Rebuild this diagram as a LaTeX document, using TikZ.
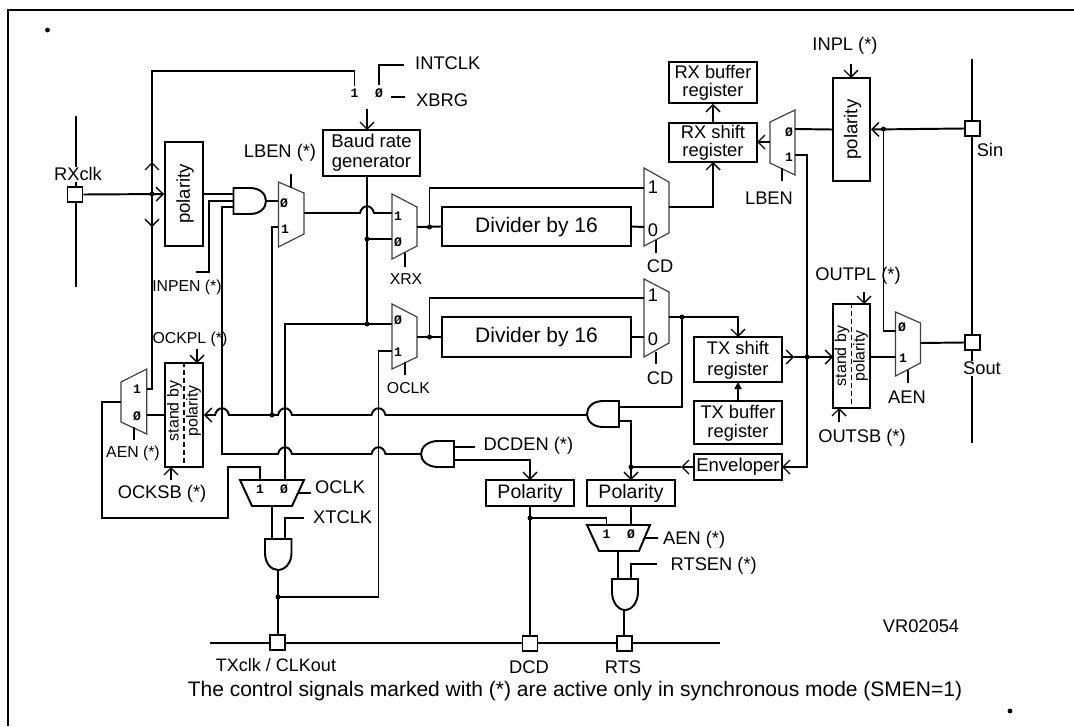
\documentclass[tikz,border=0pt]{standalone}
\usepackage{fontspec}
\setmainfont{Liberation Sans}
\newfontfamily\monof{Liberation Mono}[BoldFont={Liberation Mono Bold}]
\usetikzlibrary{arrows.meta}
\newcommand\hop[2]{-- ({#1-7},#2) .. controls ({#1-5},{#2-9}) and ({#1+5},{#2-9}) .. ({#1+7},#2)}
\newcommand\dotat[1]{\fill (#1) circle (2.5pt);}
\newcommand\fsz[1]{\fontsize{#1}{#1}\selectfont}
\tikzset{
  x=1pt,y=-1pt,
  openhead/.tip={Straight Barb[length=7pt,width=14pt,line width=1.4pt]},
  solidhead/.tip={Triangle[length=7pt,width=7pt]},
  wire/.style={line width=1.95pt,line cap=butt,line join=miter,black},
  arrowwire/.style={wire,-{openhead}},
  muxgray/.style={line width=1.2pt,draw=black!75,line join=miter},
  muxdark/.style={line width=1.95pt,draw=black,line join=miter},
  gate/.style={line width=1.95pt,draw=black,line join=miter,fill=white},
  box/.style={draw,line width=1.95pt,inner sep=0pt,align=center,fill=white},
  term/.style={draw,line width=1.95pt,inner sep=0pt,fill=white,minimum width=15pt,minimum height=15pt},
  lab/.style={inner sep=0pt,font=\fsz{18.3},text height=13pt,text depth=0pt},
  sml/.style={inner sep=0pt,font=\fsz{15.8},text height=11.4pt,text depth=0pt},
  big/.style={inner sep=0pt,font=\fsz{18.3}},
  tiny/.style={inner sep=0pt,font=\monof\bfseries\fsz{13}},
}
\begin{document}
\begin{tikzpicture}
\useasboundingbox (0,0) rectangle (1074,726);
% frame
\draw[line width=2pt,line join=miter] (8,726) -- (8,10) -- (1074,10);
\fill (47.5,30) circle (2.4pt);
\fill (1010,711) circle (2.4pt);

% external buses
\coordinate (rxbusT) at (76,116); \coordinate (rxbusB) at (76,287);
\draw[wire] (rxbusT) -- (rxbusB);
\coordinate (serT) at (972,59); \coordinate (serB) at (972,443);
\draw[wire] (serT) -- (serB);
\coordinate (pinL) at (210,643); \coordinate (pinR) at (719.5,643);
\draw[wire] (pinL) -- (pinR);

% boxes
\node[box,minimum width=97pt,minimum height=46pt] (baud) at (371.5,153) {};
\node[big,font=\fsz{18.5}] (bauda) at (371.5,141) {Baud rate};
\node[big,font=\fsz{18.5}] (baudb) at (371.5,163) {generator};
\node[box,minimum width=38pt,minimum height=104pt] (polL) at (184,194) {};
\node[big,rotate=90,font=\fsz{18.6}] (polLt) at (185,194) {polarity};
\node[box,minimum width=38pt,minimum height=104pt] (sbL) at (184,415) {};
\draw[wire,dashed,dash pattern=on 5pt off 3pt] (sbL.north) -- (sbL.south);
\node[inner sep=0pt,rotate=90,font=\fsz{15.9}] (sbLa) at (174.5,411) {stand by};
\node[inner sep=0pt,rotate=90,font=\fsz{15.9}] (sbLb) at (193.5,411) {polarity};
\node[box,minimum width=189pt,minimum height=39pt] (div1) at (536.5,226.5) {};
\node[inner sep=0pt,font=\fsz{21}] (div1t) at (536.5,227) {Divider by 16};
\node[box,minimum width=189pt,minimum height=40pt] (div2) at (536.5,337) {};
\node[inner sep=0pt,font=\fsz{21}] (div2t) at (536.5,337) {Divider by 16};
\node[box,minimum width=88pt,minimum height=41pt] (rxbuf) at (713,82.5) {};
\node[big] (rxbufa) at (713,72) {RX buffer};
\node[big] (rxbufb) at (713,92) {register};
\node[box,minimum width=88pt,minimum height=39pt] (rxsh) at (713,142.5) {};
\node[big] (rxsha) at (713,132) {RX shift};
\node[big] (rxshb) at (713,152) {register};
\node[box,minimum width=37pt,minimum height=103pt] (polR) at (851.5,129.5) {};
\node[big,rotate=90,font=\fsz{18.6}] (polRt) at (852.5,129.5) {polarity};
\node[box,minimum width=37pt,minimum height=104pt] (sbR) at (851.5,356) {};
\draw[wire,dashed,dash pattern=on 5pt off 3pt] (sbR.north) -- (sbR.south);
\node[inner sep=0pt,rotate=90,font=\fsz{15.9}] (sbRa) at (842,356) {stand by};
\node[inner sep=0pt,rotate=90,font=\fsz{15.9}] (sbRb) at (860.5,356) {polarity};
\node[box,minimum width=88pt,minimum height=45pt] (txsh) at (738,359.5) {};
\node[big] (txsha) at (738,348) {TX shift};
\node[big] (txshb) at (738,371) {register};
\node[box,minimum width=88pt,minimum height=43pt] (txbuf) at (738,422.5) {};
\node[big] (txbufa) at (738,412) {TX buffer};
\node[big] (txbufb) at (738,433) {register};
\node[box,minimum width=88pt,minimum height=26pt,font=\fsz{18.5}] (env) at (738,467) {Enveloper};
\node[box,minimum width=88pt,minimum height=26pt,font=\fsz{19.5}] (polA) at (530,493) {Polarity};
\node[box,minimum width=88pt,minimum height=26pt,font=\fsz{19.5}] (polB) at (631,493) {Polarity};

% terminals
\node[term] (rxsq) at (75,194.5) {};
\node[term] (sinsq) at (972.5,128.5) {};
\node[term] (soutsq) at (972.5,342.5) {};
\node[term] (txsq) at (277.5,642.5) {};
\node[term] (dcdsq) at (530,643.5) {};
\node[term] (rtssq) at (624.5,643.5) {};
\node[lab,fill=white,inner sep=1pt] (rxl) at (78,174) {RXclk};
\node[lab,fill=white,inner sep=1pt] (soutl) at (982,368) {Sout};
\node[lab] (sinl) at (990,150) {Sin};

% multiplexers
\draw[muxgray] (278.4,182) -- (304,193) -- (304,234) -- (278.4,247) -- cycle;
\draw[muxgray] (392,194) -- (417,207) -- (417,246) -- (392,259) -- cycle;
\draw[muxgray] (392,304) -- (417,317) -- (417,357) -- (392,369) -- cycle;
\draw[muxgray] (644,168) -- (669,182) -- (669,233) -- (644,246) -- cycle;
\draw[muxgray] (644,279) -- (669,292) -- (669,343) -- (644,357) -- cycle;
\draw[muxgray] (770,122) -- (795,110) -- (795,175) -- (770,163) -- cycle;
\draw[muxgray] (895.5,312) -- (920.5,323) -- (920.5,363) -- (895.5,376) -- cycle;
\draw[muxgray] (121,382) -- (146.7,369) -- (146.7,434) -- (121,422) -- cycle;
\draw[muxdark] (240,480) -- (304,480) -- (292,506) -- (252,506) -- cycle;
\draw[muxdark] (587,525) -- (650,525) -- (639,551) -- (599,551) -- cycle;

% gates
\draw[gate] (233.5,188) -- (250,188) .. controls (260,188) and (266,194) .. (266,201) .. controls (266,208) and (260,214) .. (250,214) -- (233.5,214) -- cycle;
\draw[gate] (454,441) -- (438,441) .. controls (428,441) and (421,447) .. (421,454) .. controls (421,461) and (428,467) .. (438,467) -- (454,467) -- cycle;
\draw[gate] (619,401) -- (603,401) .. controls (593,401) and (587,407) .. (587,414) .. controls (587,421) and (593,427) .. (603,427) -- (619,427) -- cycle;
\draw[gate] (265,539) -- (291.5,539) -- (291.5,553) .. controls (291.5,563) and (285,570) .. (278,570) .. controls (271,570) and (265,563) .. (265,553) -- cycle;
\draw[gate] (612,579) -- (638,579) -- (638,592) .. controls (638,602) and (632,610) .. (625,610) .. controls (618,610) and (612,602) .. (612,592) -- cycle;

% named wire ends
\coordinate (sel1) at (354.5,86); \coordinate (sel0) at (379,85);
\coordinate (intclk) at (404,65); \coordinate (xbrgS) at (391,97); \coordinate (xbrgE) at (405,97);
\coordinate (baudS) at (367,109); \coordinate (baudN) at (367,130); \coordinate (baudO) at (367,176);
\coordinate (jA) at (152,194); \coordinate (upTip) at (152,162); \coordinate (dnTip) at (152,227);
\coordinate (muxAin1) at (146.7,389); \coordinate (muxAin0) at (146.7,415); \coordinate (muxAout) at (121,402);
\coordinate (and1a) at (233.5,194); \coordinate (and1b) at (233.5,201); \coordinate (and1c) at (233.5,207); \coordinate (and1o) at (266,201);
\coordinate (inpen) at (196,272);
\coordinate (lb0) at (278.4,201); \coordinate (lb1) at (278.4,227); \coordinate (lbO) at (304,213); \coordinate (lbC1) at (291,174); \coordinate (lbC2) at (291,188);
\coordinate (xr1) at (392,213); \coordinate (xr0) at (392,239); \coordinate (xrO) at (417,227); \coordinate (jxr) at (429.5,227); \coordinate (jb) at (367,239);
\coordinate (xrC1) at (405,253); \coordinate (xrC2) at (405,267);
\coordinate (cd11) at (644,188); \coordinate (cd10) at (644,227); \coordinate (cd1O) at (669,207);
\coordinate (cd1C1) at (656,240); \coordinate (cd1C2) at (656,253);
\coordinate (rxshS) at (713,162); \coordinate (lb2O) at (770,142); \coordinate (lb2e) at (757,142);
\coordinate (lb20) at (795,129); \coordinate (lb21) at (795,155); \coordinate (lb2C1) at (782,168); \coordinate (lb2C2) at (782,181);
\coordinate (inplS) at (851,64); \coordinate (inplE) at (851,78);
\coordinate (jsin) at (883.5,129);
\coordinate (aen0) at (895.5,331); \coordinate (aen1) at (895.5,357); \coordinate (aenO) at (920.5,343); \coordinate (sbRo) at (870,357); \coordinate (aenC1) at (908,370); \coordinate (aenC2) at (908,383);
\coordinate (outplS) at (864,292); \coordinate (outplE) at (864,304); \coordinate (outsbS) at (839,422); \coordinate (outsbE) at (839,408);
\coordinate (oc0) at (392,324); \coordinate (oc1) at (392,351); \coordinate (ocO) at (417,337); \coordinate (joc) at (429.5,337); \coordinate (jc) at (367,324);
\coordinate (ocC1) at (405,362); \coordinate (ocC2) at (405,375);
\coordinate (cd21) at (644,298); \coordinate (cd20) at (644,337); \coordinate (cd2O) at (669,317); \coordinate (jcd) at (682,317);
\coordinate (cd2C1) at (656,352); \coordinate (cd2C2) at (656,364);
\coordinate (txshN) at (738,337); \coordinate (txshS) at (738,382); \coordinate (txshE) at (782,357); \coordinate (txTip) at (794,357); \coordinate (sbRw) at (833,357); \coordinate (jtx) at (807,357);
\coordinate (envE) at (782,467); \coordinate (envTip) at (681,467); \coordinate (jenv) at (631,467);
\coordinate (gTxIn) at (587,415); \coordinate (gTxA) at (619,407); \coordinate (gTxB) at (619,421); \coordinate (polBn) at (631,480);
\coordinate (jl) at (272,415); \coordinate (dcdIn) at (421,454); \coordinate (dcdA) at (454,447); \coordinate (dcdB) at (454,460); \coordinate (dcdStub) at (475,447); \coordinate (polAn) at (530,480);
\coordinate (lowA) at (260,480); \coordinate (lowB) at (285,480); \coordinate (lowO) at (272,506); \coordinate (andTa) at (272,539); \coordinate (andTb) at (285,539); \coordinate (xt) at (304,518);
\coordinate (oclkA) at (298,493); \coordinate (oclkB) at (311,493);
\coordinate (andTo) at (278,570); \coordinate (jt) at (278,597); \coordinate (txN) at (278,635);
\coordinate (muxAinS) at (165,415);
\coordinate (ockplS) at (197,349); \coordinate (ockplE) at (197,363); \coordinate (ocksbS) at (171,480); \coordinate (ocksbE) at (171,467);
\coordinate (muxAC1) at (134,427); \coordinate (muxAC2) at (134,440);
\coordinate (polAs) at (530,506); \coordinate (dcdN) at (530,636); \coordinate (jd) at (530,518); \coordinate (rtA) at (606.5,525); \coordinate (polBs) at (631,506); \coordinate (rtB) at (631,525);
\coordinate (aenA) at (645,538); \coordinate (aenB) at (657.5,538); \coordinate (rtO) at (618,551); \coordinate (andRa) at (618,579); \coordinate (andRb) at (631,579); \coordinate (rtsen) at (656.5,564); \coordinate (andRo) at (624,610); \coordinate (rtsN) at (624,636);

% wires: clock selection and baud rate
\draw[wire] (muxAin1) -- (152,389) -- (152,71) -| (sel1);
\draw[wire] (sel0) |- (intclk);
\draw[wire] (xbrgS) -- (xbrgE);
\draw[arrowwire] (baudS) -- (baudN);
\draw[wire] (baudO) -- (jc);
\draw[arrowwire] (rxsq.east) -- (polL.west);
\draw[arrowwire] (jA) -- (upTip);
\draw[arrowwire] (jA) -- (dnTip);
\draw[wire] (polL.east) -- (and1a);
\draw[wire] (and1b) -- (209,201) |- (inpen);
\draw[wire] (and1c) -- (222,207) -- (222,454) \hop{285}{454} \hop{378.5}{454} -- (dcdIn);
\draw[wire] (and1o) -- (lb0);
\draw[wire] (lbC1) -- (lbC2);
\draw[wire] (lb1) -- (272,227) -- (jl);
\draw[wire] (lbO) \hop{367}{213} -- (xr1);
\draw[wire] (jb) -- (xr0);
\draw[wire] (xrO) -- (div1.west);
\draw[wire] (jxr) |- (cd11);
\draw[wire] (xrC1) -- (xrC2);
\draw[wire] (div1.east) -- (cd10);
\draw[wire] (cd1C1) -- (cd1C2);
\draw[arrowwire] (cd1O) -| (rxshS);
\draw[arrowwire] (rxsh.north) -- (rxbuf.south);
\draw[arrowwire] (lb2O) -- (lb2e);
\draw[wire] (lb20) -- (polR.west);
\draw[wire] (lb2C1) -- (lb2C2);
\draw[arrowwire] (inplS) -- (inplE);
\draw[arrowwire] (sinsq.west) -- (polR.east);
\draw[wire] (jsin) |- (aen0);
\draw[wire] (aenO) -- (soutsq.west);
\draw[wire] (sbRo) -- (aen1);
\draw[wire] (aenC1) -- (aenC2);
\draw[arrowwire] (outplS) -- (outplE);
\draw[arrowwire] (outsbS) -- (outsbE);
\draw[arrowwire] (lb21) -- (807,155) -- (807,467) -- (envE);
\draw[arrowwire] (txshE) -- (txTip);
\draw[arrowwire] (txTip) -- (sbRw);
\draw[wire,-{solidhead}] (txbuf.north) -- (txshS);
% second divider
\draw[wire] (lowB) |- (oc0);
\draw[wire] (oc1) -- (378.5,351) |- (jt);
\draw[wire] (ocO) -- (div2.west);
\draw[wire] (joc) |- (cd21);
\draw[wire] (ocC1) -- (ocC2);
\draw[wire] (div2.east) -- (cd20);
\draw[wire] (cd2C1) -- (cd2C2);
\draw[arrowwire] (cd2O) -| (txshN);
\draw[wire] (gTxA) -| (jcd);
\draw[arrowwire] (gTxB) -| (polBn);
\draw[arrowwire] (env.west) -- (envTip);
\draw[wire] (envTip) -- (jenv);
% stand-by polarity left
\draw[{openhead}-,wire] (sbL.east) \hop{222}{415} \hop{285}{415} \hop{378.5}{415} -- (gTxIn);
\draw[wire] (muxAin0) -- (muxAinS);
\draw[arrowwire] (ockplS) -- (ockplE);
\draw[arrowwire] (ocksbS) -- (ocksbE);
\draw[wire] (muxAC1) -- (muxAC2);
\draw[wire] (muxAout) -- (102,402) -- (102,518) -- (228,518) -- (228,467) -| (lowA);
% lower left
\draw[wire] (oclkA) -- (oclkB);
\draw[wire] (lowO) -- (andTa);
\draw[wire] (xt) -| (andTb);
\draw[wire] (andTo) -- (txN);
% DCD and RTS
\draw[wire] (dcdA) -- (dcdStub);
\draw[arrowwire] (dcdB) -| (polAn);
\draw[wire] (polAs) -- (dcdN);
\draw[wire] (jd) -| (rtA);
\draw[wire] (polBs) -- (rtB);
\draw[wire] (aenA) -- (aenB);
\draw[wire] (rtO) -- (andRa);
\draw[wire] (rtsen) -| (andRb);
\draw[wire] (andRo) -- (rtsN);
% junction dots
\dotat{jA} \dotat{jl} \dotat{jb} \dotat{jc} \dotat{jxr} \dotat{joc} \dotat{jcd} \dotat{jsin} \dotat{jtx} \dotat{jenv} \dotat{jt} \dotat{jd}

% mux pin labels
\node[tiny] (t1) at (354.5,93) {1};
\node[tiny] (t2) at (379,93) {Ø};
\node[tiny] (t3) at (284,203) {Ø};
\node[tiny] (t4) at (285,229) {1};
\node[tiny] (t5) at (398,216) {1};
\node[tiny] (t6) at (398,242) {Ø};
\node[tiny] (t7) at (398,320) {Ø};
\node[tiny] (t8) at (398,352) {1};
\node[tiny] (t9) at (789,132) {Ø};
\node[tiny] (t10) at (789,157) {1};
\node[tiny] (t11) at (902,327) {Ø};
\node[tiny] (t12) at (903,358) {1};
\node[tiny] (t13) at (137,389) {1};
\node[tiny] (t14) at (137,416) {Ø};
\node[tiny] (t15) at (260,489) {1};
\node[tiny] (t16) at (284,489) {Ø};
\node[tiny] (t17) at (606.5,534) {1};
\node[tiny] (t18) at (631,534) {Ø};
\node[big] (c1) at (653,187) {1};
\node[big] (c2) at (653,230) {0};
\node[big] (c3) at (653,295) {1};
\node[big] (c4) at (653,339) {0};

% labels
\node[lab,anchor=west] (l1) at (415,63) {INTCLK};
\node[lab,anchor=west] (l2) at (416,100) {XBRG};
\node[lab] (l3) at (280,151) {LBEN (*)};
\node[lab] (l4) at (845,44) {INPL (*)};
\node[lab] (l5) at (769,198) {LBEN};
\node[lab] (l6) at (660,266) {CD};
\node[lab] (l7) at (660,378) {CD};
\node[lab] (l8) at (858,274) {OUTPL (*)};
\node[lab] (l9) at (862,436) {OUTSB (*)};
\node[lab] (l10) at (907,397) {AEN};
\node[sml] (l11) at (187,286) {INPEN (*)};
\node[sml] (l12) at (190,338) {OCKPL (*)};
\node[sml] (l13) at (133,452) {AEN (*)};
\node[sml] (l14) at (406,279) {XRX};
\node[sml] (l15) at (408.5,388) {OCLK};
\node[lab] (l16) at (162,492) {OCKSB (*)};
\node[lab,anchor=west] (l17) at (315,487) {OCLK};
\node[lab,anchor=west] (l18) at (313,517) {XTCLK};
\node[lab,anchor=west] (l19) at (483.5,444) {DCDEN (*)};
\node[lab,anchor=west] (l20) at (663,538) {AEN (*)};
\node[lab,anchor=west] (l21) at (670.5,564) {RTSEN (*)};
\node[lab] (l22) at (921,626) {VR02054};
\node[lab,font=\fsz{18}] (l23) at (276,665) {TXclk / CLKout};
\node[lab] (l24) at (529,667) {DCD};
\node[lab] (l25) at (623,667) {RTS};
\node[inner sep=0pt,font=\fsz{21}] (note) at (575,691) {The control signals marked with (*) are active only in synchronous mode (SMEN=1)};
\end{tikzpicture}
\end{document}
